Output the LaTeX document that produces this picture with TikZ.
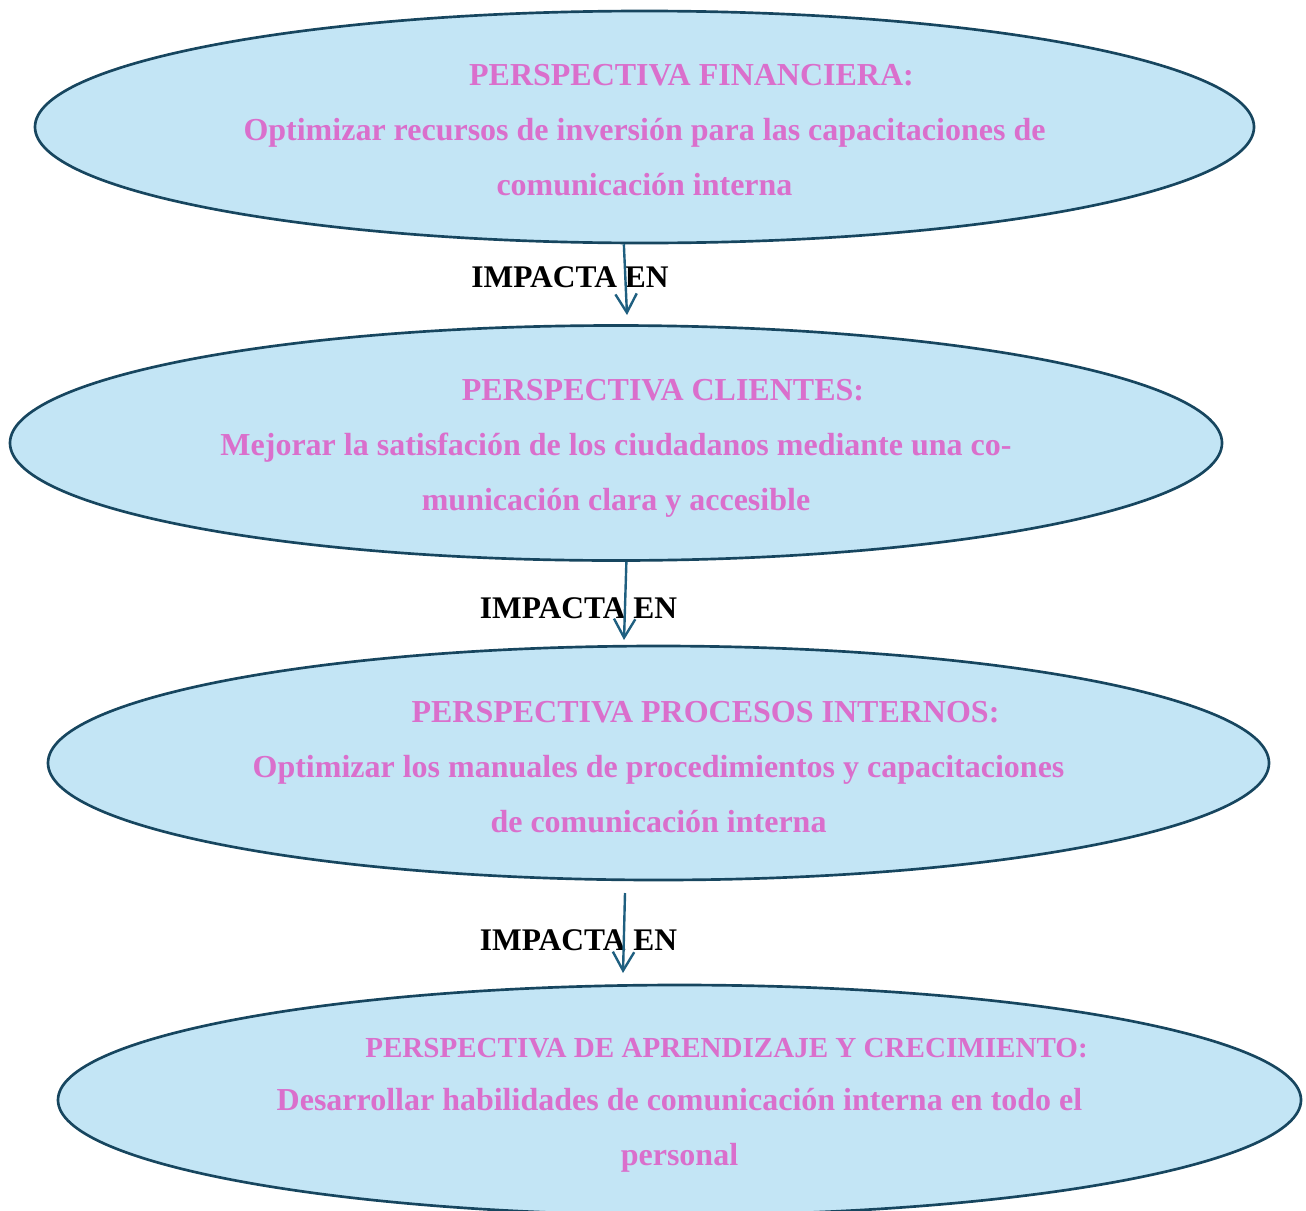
\documentclass[tikz,border=0pt]{standalone}
\usepackage{fontspec}
\setmainfont{Liberation Serif}
\usetikzlibrary{shapes.geometric,arrows.meta}
\definecolor{rosa}{HTML}{DA6FCC}
\definecolor{celeste}{HTML}{C3E5F5}
\definecolor{borde}{HTML}{17465F}
\definecolor{flecha}{HTML}{1F5F80}
\begin{document}
\begin{tikzpicture}[x=.75pt,y=-.75pt,>={Straight Barb[length=14pt,width=16pt]},
  persp/.style={ellipse,draw=borde,line width=2pt,fill=celeste,inner sep=0pt},
  texto/.style={text=rosa,align=center,inner sep=0pt,font=\bfseries\fontsize{24}{41.25}\selectfont},
  impacto/.style={->,draw=flecha,line width=1.8pt},
  etiqueta/.style={font=\bfseries\fontsize{23.6}{28}\selectfont}]
\useasboundingbox (0,0) rectangle (1306,1210);
\node[persp,minimum width=914.25pt,minimum height=174pt] (fin) at (644.5,127) {};
\node[persp,minimum width=909pt,minimum height=176.25pt] (cli) at (616,443) {};
\node[persp,minimum width=915.75pt,minimum height=175.5pt] (pro) at (658.5,763) {};
\node[persp,minimum width=932.25pt,minimum height=172.5pt] (apr) at (679.5,1100) {};

\node[texto] (fin-t) at ([shift={(0,3)}]fin.center)
  {\hspace*{70.5pt}PERSPECTIVA FINANCIERA:\\Optimizar recursos de inversión para las capacitaciones de\\comunicación interna};
\node[texto] (cli-t) at ([shift={(0,5)}]cli.center)
  {\hspace*{70.5pt}PERSPECTIVA CLIENTES:\\Mejorar la satisfación de los ciudadanos mediante una co-\\municación clara y accesible};
\node[texto] (pro-t) at ([shift={(0,4)}]pro.center)
  {\hspace*{70.5pt}PERSPECTIVA PROCESOS INTERNOS:\\Optimizar los manuales de procedimientos y capacitaciones\\de comunicación interna};
\node[texto] (apr-t) at ([shift={(0,5)}]apr.center)
  {\hspace*{70.5pt}{\fontsize{21.8}{38}\selectfont PERSPECTIVA DE APRENDIZAJE Y CRECIMIENTO:}\\[-1.5pt]Desarrollar habilidades de comunicación interna en todo el\\personal};

\node[etiqueta] (i1) at (570,277) {IMPACTA EN};
\node[etiqueta] (i2) at (578.5,608) {IMPACTA EN};
\node[etiqueta] (i3) at (578.5,940) {IMPACTA EN};

\coordinate (p1) at (627,315);
\coordinate (p2) at (624,640);
\coordinate (p3) at (623,973);
\draw[impacto](fin.260.5)--(p1);
\draw[impacto](cli.275)--(p2);
\draw[impacto]([shift={(-33.5,130)}]pro.center)--(p3);
\end{tikzpicture}
\end{document}
